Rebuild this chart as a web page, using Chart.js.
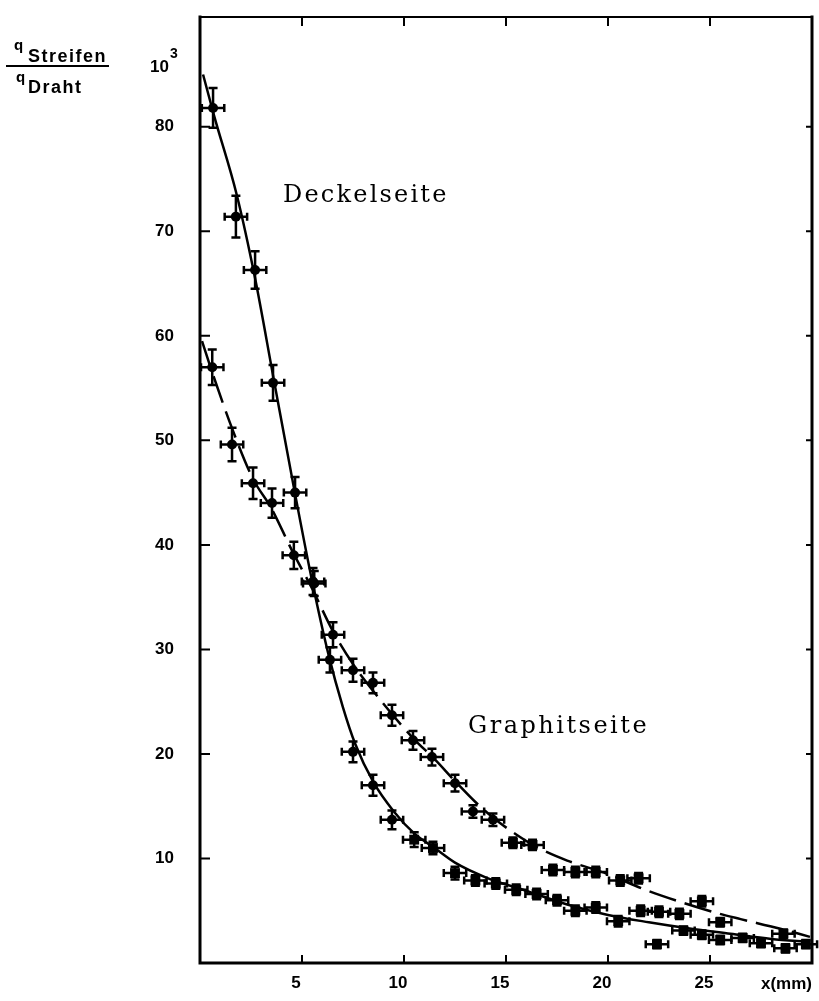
<!DOCTYPE html>
<html>
<head>
<meta charset="utf-8">
<script src="https://cdn.jsdelivr.net/npm/chart.js@4.4.1/dist/chart.umd.min.js"></script>
<style>
    html, body { margin: 0; padding: 0; background: #fff; }
    #wrap { width: 819px; height: 1001px; position: relative; }
</style>
</head>
<body>
<div id="wrap"><canvas id="chartStreifen"></canvas></div>
<script>
// Messpunkte Deckelseite (x in mm, Ladungsverhaeltnis in 10^-3)
const deckelX = [0.64, 1.76, 2.7, 3.58, 4.66, 5.54, 6.37, 7.5, 8.48, 9.41, 10.5, 11.42, 12.5, 13.5, 14.5, 15.5, 16.5, 17.5, 18.4, 19.4, 20.5, 21.6, 22.5, 23.5, 22.4, 23.7, 24.6, 25.5, 26.6, 27.5, 28.7, 29.7];
const deckelY = [81.8, 71.4, 66.3, 55.5, 45.0, 36.5, 29.0, 20.2, 17.0, 13.7, 11.8, 11.0, 8.6, 7.9, 7.6, 7.0, 6.6, 6.0, 5.0, 5.3, 4.0, 5.0, 4.9, 4.7, 1.8, 3.1, 2.7, 2.2, 2.4, 1.9, 1.4, 1.8];
const deckelXErr = [0.55, 0.55, 0.55, 0.55, 0.55, 0.55, 0.55, 0.55, 0.55, 0.55, 0.55, 0.55, 0.55, 0.55, 0.55, 0.55, 0.55, 0.55, 0.55, 0.55, 0.55, 0.55, 0.55, 0.55, 0.55, 0.55, 0.55, 0.55, 0.55, 0.55, 0.55, 0.55];
const deckelYErr = [1.9, 2.0, 1.8, 1.7, 1.5, 1.3, 1.2, 1.0, 1.0, 0.9, 0.7, 0.6, 0.6, 0.5, 0.5, 0.5, 0.5, 0.5, 0.5, 0.5, 0.5, 0.5, 0.5, 0.5, 0.4, 0.4, 0.4, 0.4, 0.4, 0.4, 0.4, 0.4];

// Messpunkte Graphitseite
const graphitX = [0.6, 1.57, 2.6, 3.53, 4.6, 5.6, 6.52, 7.5, 8.48, 9.41, 10.44, 11.37, 12.5, 13.38, 14.36, 15.34, 16.3, 17.3, 18.4, 19.4, 20.6, 21.5, 24.6, 25.5, 28.6];
const graphitY = [57.0, 49.6, 45.9, 44.0, 39.0, 36.3, 31.4, 28.0, 26.8, 23.7, 21.3, 19.7, 17.2, 14.5, 13.7, 11.5, 11.3, 8.9, 8.7, 8.7, 7.9, 8.1, 5.9, 3.9, 2.8];
const graphitXErr = [0.55, 0.55, 0.55, 0.55, 0.55, 0.55, 0.55, 0.55, 0.55, 0.55, 0.55, 0.55, 0.55, 0.55, 0.55, 0.55, 0.55, 0.55, 0.55, 0.55, 0.55, 0.55, 0.55, 0.55, 0.55];
const graphitYErr = [1.7, 1.6, 1.5, 1.4, 1.3, 1.2, 1.2, 1.1, 1.0, 1.0, 0.9, 0.8, 0.8, 0.6, 0.6, 0.5, 0.5, 0.5, 0.5, 0.5, 0.5, 0.5, 0.5, 0.4, 0.4];

// Ausgleichskurven
const deckelFitX = [0.15, 0.7, 1.8, 2.7, 3.6, 4.6, 5.5, 6.3, 7.0, 7.6, 8.5, 9.5, 10.5, 11.5, 12.5, 14, 16, 18, 20, 22, 24, 26, 28, 29.9];
const deckelFitY = [85, 81, 73.5, 65.5, 56, 45.5, 36.5, 29.5, 24.5, 21, 17.3, 14.5, 12.4, 11, 9.6, 8.2, 6.9, 5.6, 4.6, 3.9, 3.3, 2.8, 2.3, 2.0];
const graphitFitX = [0.1, 0.6, 1.6, 2.6, 3.5, 4.5, 5.5, 6.5, 7.5, 8.5, 9.5, 10.5, 11.5, 12.5, 13.5, 14.5, 15.5, 16.5, 18, 20, 21.7, 23.3, 25.3, 26.5, 28.4, 29.9];
const graphitFitY = [59.5, 56.5, 51, 46.3, 43.5, 39.5, 35.8, 31.8, 28.6, 26, 23.6, 21.4, 19.5, 17.4, 15.4, 13.7, 12.3, 11.1, 9.8, 8.5, 7.1, 6.0, 4.8, 4.2, 3.3, 2.5];

// Achsen
const xTicks = [5, 10, 15, 20, 25];
const yTicks = [10, 20, 30, 40, 50, 60, 70, 80];

const toPoints = (xs, ys) => xs.map((x, i) => ({ x: x, y: ys[i] }));

const labelFont = "bold 17px 'Liberation Sans', Arial, sans-serif";
const textFont = "24px 'DejaVu Serif', serif";

// Fehlerbalken mit Endstrichen
const errorBars = {
    id: "errorBars",
    afterDatasetsDraw(chart) {
        const ctx = chart.ctx;
        const xs = chart.scales.x;
        const ys = chart.scales.y;
        ctx.save();
        ctx.strokeStyle = "#000";
        ctx.lineWidth = 2.5;
        chart.data.datasets.forEach(ds => {
            if (!ds.xErr) return;
            ds.data.forEach((p, i) => {
                const px = xs.getPixelForValue(p.x);
                const py = ys.getPixelForValue(p.y);
                const x0 = xs.getPixelForValue(p.x - ds.xErr[i]);
                const x1 = xs.getPixelForValue(p.x + ds.xErr[i]);
                const y0 = ys.getPixelForValue(p.y - ds.yErr[i]);
                const y1 = ys.getPixelForValue(p.y + ds.yErr[i]);
                ctx.beginPath();
                ctx.moveTo(x0, py); ctx.lineTo(x1, py);
                ctx.moveTo(x0, py - 4); ctx.lineTo(x0, py + 4);
                ctx.moveTo(x1, py - 4); ctx.lineTo(x1, py + 4);
                ctx.moveTo(px, y0); ctx.lineTo(px, y1);
                ctx.moveTo(px - 4.5, y0); ctx.lineTo(px + 4.5, y0);
                ctx.moveTo(px - 4.5, y1); ctx.lineTo(px + 4.5, y1);
                ctx.stroke();
            });
        });
        ctx.restore();
    }
};

// Rahmen, innere Teilstriche und Beschriftung
const frameAndText = {
    id: "frameAndText",
    afterDraw(chart) {
        const ctx = chart.ctx;
        const a = chart.chartArea;
        const xs = chart.scales.x;
        const ys = chart.scales.y;
        ctx.save();
        ctx.strokeStyle = "#000";
        ctx.lineCap = "square";

        ctx.lineWidth = 3;
        ctx.beginPath();
        ctx.moveTo(a.left, a.top); ctx.lineTo(a.left, a.bottom);
        ctx.lineTo(a.right, a.bottom); ctx.lineTo(a.right, a.top);
        ctx.stroke();
        ctx.lineWidth = 2;
        ctx.beginPath();
        ctx.moveTo(a.left, a.top); ctx.lineTo(a.right, a.top);
        ctx.stroke();

        ctx.lineWidth = 2;
        ctx.beginPath();
        xTicks.forEach(v => {
            const px = xs.getPixelForValue(v);
            ctx.moveTo(px, a.bottom); ctx.lineTo(px, a.bottom - 7);
            ctx.moveTo(px, a.top); ctx.lineTo(px, a.top + 8);
        });
        yTicks.forEach(v => {
            const py = ys.getPixelForValue(v);
            ctx.moveTo(a.left, py); ctx.lineTo(a.left + 9, py);
            ctx.moveTo(a.right, py); ctx.lineTo(a.right - 5, py);
        });
        ctx.stroke();

        ctx.fillStyle = "#000";
        ctx.font = labelFont;
        ctx.textAlign = "right";
        ctx.textBaseline = "alphabetic";
        ctx.fillText("x(mm)", a.right, 989);

        // Achsentitel als Bruch
        ctx.textAlign = "left";
        ctx.font = "bold 15px 'Liberation Sans', Arial, sans-serif";
        ctx.fillText("q", 14, 50);
        ctx.fillText("q", 16, 82);
        ctx.font = "bold 18px 'Liberation Sans', Arial, sans-serif";
        ctx.letterSpacing = "1.5px";
        ctx.fillText("Streifen", 28, 62);
        ctx.fillText("Draht", 28, 93);
        ctx.letterSpacing = "0px";
        ctx.lineWidth = 2;
        ctx.beginPath();
        ctx.moveTo(7, 66); ctx.lineTo(108, 66);
        ctx.stroke();

        ctx.font = labelFont;
        ctx.fillText("10", 150, 72);
        ctx.font = "bold 14px 'Liberation Sans', Arial, sans-serif";
        ctx.fillText("3", 170, 58);

        ctx.font = textFont;
        ctx.letterSpacing = "2.2px";
        ctx.fillText("Deckelseite", 283, 202);
        ctx.letterSpacing = "2.5px";
        ctx.fillText("Graphitseite", 468, 733);
        ctx.restore();
    }
};

const canvas = document.getElementById("chartStreifen");

new Chart(canvas, {
    type: "scatter",
    data: {
        datasets: [
            {
                label: "Deckelseite Kurve",
                data: toPoints(deckelFitX, deckelFitY),
                showLine: true,
                borderColor: "#000",
                borderWidth: 2.5,
                pointRadius: 0,
                cubicInterpolationMode: "monotone"
            },
            {
                label: "Graphitseite Kurve",
                data: toPoints(graphitFitX, graphitFitY),
                showLine: true,
                borderColor: "#000",
                borderWidth: 2.5,
                borderDash: [28, 9],
                pointRadius: 0,
                cubicInterpolationMode: "monotone"
            },
            {
                label: "Deckelseite",
                data: toPoints(deckelX, deckelY),
                xErr: deckelXErr,
                yErr: deckelYErr,
                backgroundColor: "#000",
                borderWidth: 0,
                pointStyle: c => (c.raw && c.raw.y > 12 ? "circle" : "rect"),
                pointRadius: c => (c.raw && c.raw.y > 12 ? 5 : 7)
            },
            {
                label: "Graphitseite",
                data: toPoints(graphitX, graphitY),
                xErr: graphitXErr,
                yErr: graphitYErr,
                backgroundColor: "#000",
                borderWidth: 0,
                pointStyle: c => (c.raw && c.raw.y > 12 ? "circle" : "rect"),
                pointRadius: c => (c.raw && c.raw.y > 12 ? 5 : 7)
            }
        ]
    },
    options: {
        responsive: true,
        maintainAspectRatio: false,
        animation: false,
        layout: { padding: { left: 130, top: 17, right: 7, bottom: 0 } },
        plugins: {
            legend: { display: false },
            tooltip: { enabled: false }
        },
        scales: {
            x: {
                type: "linear",
                min: 0,
                max: 30,
                grid: { display: false, drawTicks: false },
                border: { display: false },
                afterFit: s => {
                    s.height = 38;
                    s.paddingLeft = 0;
                    s.paddingRight = 0;
                },
                ticks: {
                    stepSize: 5,
                    padding: 10,
                    labelOffset: -6,
                    color: "#000",
                    font: { family: "'Liberation Sans', Arial, sans-serif", size: 17, weight: "bold" },
                    callback: v => (xTicks.includes(v) ? String(v) : "")
                }
            },
            y: {
                type: "linear",
                min: 0,
                max: 90.5,
                grid: { display: false, drawTicks: false },
                border: { display: false },
                afterFit: s => {
                    s.width = 70;
                    s.paddingTop = 0;
                    s.paddingBottom = 0;
                },
                ticks: {
                    stepSize: 10,
                    padding: 26,
                    color: "#000",
                    font: { family: "'Liberation Sans', Arial, sans-serif", size: 17, weight: "bold" },
                    callback: v => (yTicks.includes(v) ? String(v) : "")
                }
            }
        }
    },
    plugins: [errorBars, frameAndText]
});
</script>
</body>
</html>
